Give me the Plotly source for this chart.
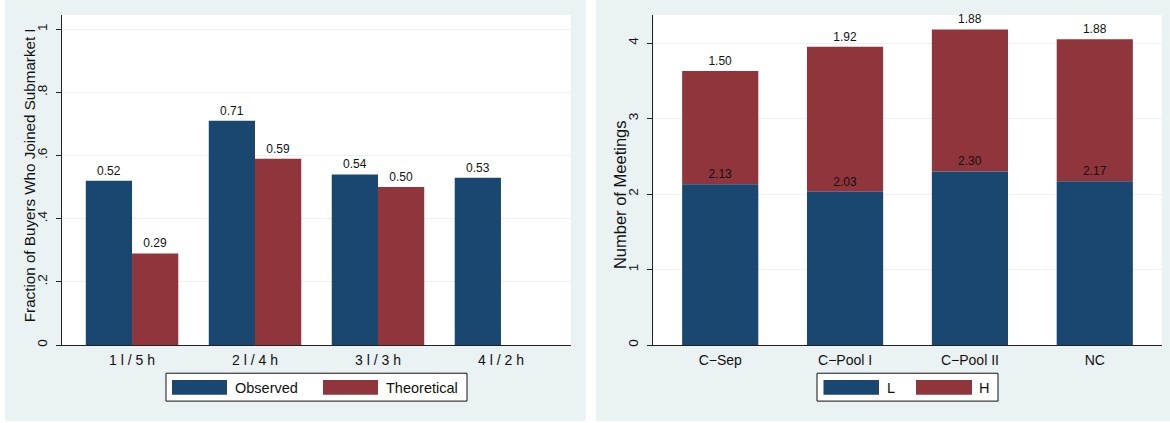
import plotly.graph_objects as go

# Left panel: share of buyers joining submarket I, by market composition
compositions = ["1 l / 5 h", "2 l / 4 h", "3 l / 3 h", "4 l / 2 h"]
observed = [0.52, 0.71, 0.54, 0.53]
theoretical = [0.29, 0.59, 0.50, None]

# Right panel: number of meetings by treatment, stacked L / H
treatments = ["C\u2212Sep", "C\u2212Pool I", "C\u2212Pool II", "NC"]
meetings_l = [2.13, 2.03, 2.30, 2.17]
meetings_h = [1.50, 1.92, 1.88, 1.88]

left_yticks = [0, 0.2, 0.4, 0.6, 0.8, 1.0]
left_yticklabels = ["0", ".2", ".4", ".6", ".8", "1"]
right_yticks = [0, 1, 2, 3, 4]
right_yticklabels = ["0", "1", "2", "3", "4"]

NAVY = "#1A476F"
MAROON = "#90353B"
PANEL_BG = "#EAF2F3"
GRID = "#EAF2F3"
FONT = "Liberation Sans, Arial, Helvetica, sans-serif"

W, H = 1170, 423


def px(x):
    return x / W


def py(y):
    return 1 - y / H


# plot areas in pixels
L_X0, L_X1, L_Y0, L_Y1 = 62.3, 570.7, 15, 346.7
R_X0, R_X1, R_Y0, R_Y1 = 653.3, 1161.7, 15, 346.7

GW = 0.376  # width of each grouped bar
SW = 0.61   # width of stacked bars

fig = go.Figure()

label_font = dict(family=FONT, size=12, color="#111111")

fig.add_trace(go.Bar(
    x=compositions, y=observed, name="Observed",
    marker=dict(color=NAVY, line=dict(width=0)),
    offset=-GW, width=GW,
    texttemplate="%{y:.2f}", textposition="outside", textfont=label_font,
    cliponaxis=False, constraintext="none",
    xaxis="x", yaxis="y", showlegend=False,
))
fig.add_trace(go.Bar(
    x=compositions, y=theoretical, name="Theoretical",
    marker=dict(color=MAROON, line=dict(width=0)),
    offset=0, width=GW,
    texttemplate="%{y:.2f}", textposition="outside", textfont=label_font,
    cliponaxis=False, constraintext="none",
    xaxis="x", yaxis="y", showlegend=False,
))
# H segment sits on top of L; drawn first so the L labels stay visible
fig.add_trace(go.Bar(
    x=treatments, y=meetings_h, base=meetings_l, name="H",
    marker=dict(color=MAROON, line=dict(width=0)),
    width=SW,
    texttemplate="%{y:.2f}", textposition="outside", textfont=label_font,
    cliponaxis=False, constraintext="none",
    xaxis="x2", yaxis="y2", showlegend=False,
))
fig.add_trace(go.Bar(
    x=treatments, y=meetings_l, name="L",
    marker=dict(color=NAVY, line=dict(width=0)),
    width=SW,
    texttemplate="%{y:.2f}", textposition="outside", textfont=label_font,
    cliponaxis=False, constraintext="none",
    xaxis="x2", yaxis="y2", showlegend=False,
))

xtick_font = dict(family=FONT, size=14, color="#111111")
ytick_font = dict(family=FONT, size=13.5, color="#111111")

xaxis_common = dict(
    type="category", showline=True, linecolor="#222222", linewidth=1,
    ticks="", showgrid=False, zeroline=False, tickfont=xtick_font,
    fixedrange=True, ticklabelstandoff=2,
)
yaxis_common = dict(
    showline=True, linecolor="#222222", linewidth=1,
    ticks="outside", ticklen=5, tickcolor="#222222", tickwidth=1,
    tickangle=-90, showgrid=True, gridcolor=GRID, gridwidth=1,
    zeroline=False, tickfont=ytick_font, fixedrange=True,
    ticklabelstandoff=4,
)

shapes = [
    # panel backgrounds
    dict(type="rect", xref="paper", yref="paper", x0=px(5), x1=px(586),
         y0=0, y1=1, fillcolor=PANEL_BG, line=dict(width=0), layer="below"),
    dict(type="rect", xref="paper", yref="paper", x0=px(596), x1=1,
         y0=0, y1=1, fillcolor=PANEL_BG, line=dict(width=0), layer="below"),
    # plot regions
    dict(type="rect", xref="paper", yref="paper", x0=px(L_X0), x1=px(L_X1),
         y0=py(L_Y1), y1=py(L_Y0), fillcolor="white", line=dict(width=0), layer="below"),
    dict(type="rect", xref="paper", yref="paper", x0=px(R_X0), x1=px(R_X1),
         y0=py(R_Y1), y1=py(R_Y0), fillcolor="white", line=dict(width=0), layer="below"),
]

annotations = [
    dict(text="Fraction of Buyers Who Joined Submarket I", xref="paper", yref="paper",
         x=px(29), y=py(176), textangle=-90, showarrow=False,
         font=dict(family=FONT, size=15.2, color="#111111"),
         xanchor="center", yanchor="middle"),
    dict(text="Number of Meetings", xref="paper", yref="paper",
         x=px(620), y=py(196), textangle=-90, showarrow=False,
         font=dict(family=FONT, size=16.5, color="#111111"),
         xanchor="center", yanchor="middle"),
]


def add_legend(box, entries):
    bx0, bx1, by0, by1 = box
    shapes.append(dict(type="rect", xref="paper", yref="paper",
                       x0=px(bx0), x1=px(bx1), y0=py(by1), y1=py(by0),
                       fillcolor="white", line=dict(color="#111111", width=1)))
    for (kx0, kx1, color, label, tx) in entries:
        shapes.append(dict(type="rect", xref="paper", yref="paper",
                           x0=px(kx0), x1=px(kx1), y0=py(396.7), y1=py(381.7),
                           fillcolor=color, line=dict(width=0)))
        annotations.append(dict(text=label, xref="paper", yref="paper",
                                x=px(tx), y=py(389.5), showarrow=False,
                                xanchor="left", yanchor="middle",
                                font=dict(family=FONT, size=14.5, color="#111111")))


add_legend((166, 467, 375, 403), [
    (172, 227, NAVY, "Observed", 233),
    (323, 378, MAROON, "Theoretical", 384),
])
add_legend((817, 998, 375, 403), [
    (823.5, 879, NAVY, "L", 885),
    (916, 972, MAROON, "H", 977),
])

fig.update_layout(
    width=W, height=H, autosize=False,
    margin=dict(l=0, r=0, t=0, b=0),
    paper_bgcolor="white", plot_bgcolor="rgba(0,0,0,0)",
    barmode="overlay",
    showlegend=False,
    xaxis=dict(domain=[px(L_X0), px(L_X1)], range=[-0.567, 3.567], anchor="y",
               **xaxis_common),
    yaxis=dict(domain=[py(L_Y1), py(L_Y0)], range=[0, 1.045], anchor="x",
               tickvals=left_yticks, ticktext=left_yticklabels, **yaxis_common),
    xaxis2=dict(domain=[px(R_X0), px(R_X1)], range=[-0.536, 3.536], anchor="y2",
                **xaxis_common),
    yaxis2=dict(domain=[py(R_Y1), py(R_Y0)], range=[0, 4.373], anchor="x2",
                tickvals=right_yticks, ticktext=right_yticklabels, **yaxis_common),
    shapes=shapes,
    annotations=annotations,
)

fig.write_html("out.html")
